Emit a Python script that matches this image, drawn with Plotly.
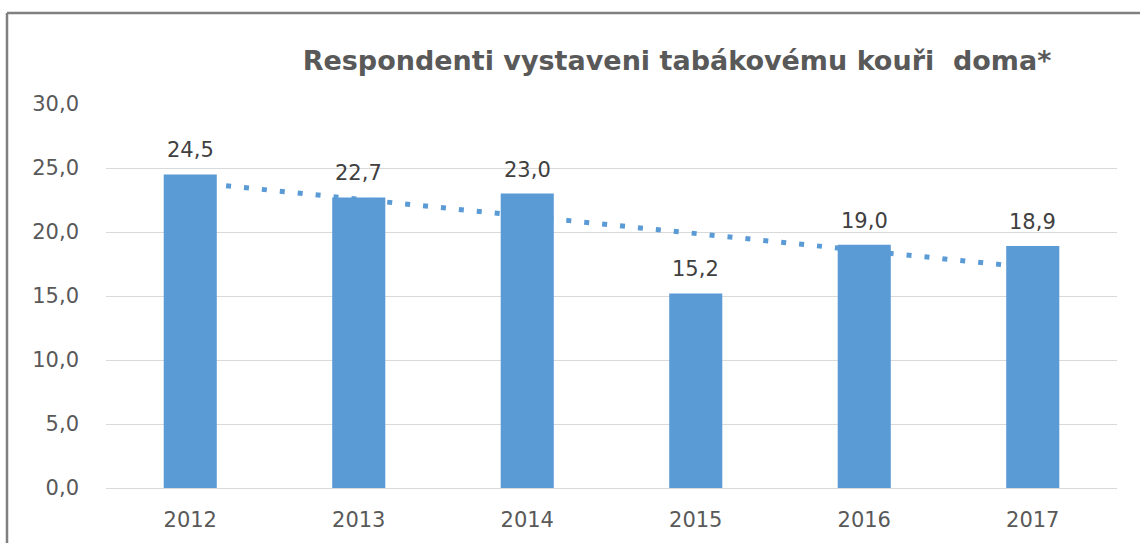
import numpy as np
import plotly.graph_objects as go

years = ["2012", "2013", "2014", "2015", "2016", "2017"]
values = [24.5, 22.7, 23.0, 15.2, 19.0, 18.9]
y_ticks = [0, 5, 10, 15, 20, 25, 30]
y_tick_labels = ["0,0", "5,0", "10,0", "15,0", "20,0", "25,0", "30,0"]
title_text = "Respondenti vystaveni tabákovému kouři  doma*"

# Linear trendline (least squares, as in the spreadsheet chart)
idx = np.arange(len(values))
slope, intercept = np.polyfit(idx, values, 1)
trend = (slope * idx + intercept).tolist()

FONT = "DejaVu Sans"
BAR = "#5b9bd5"

fig = go.Figure()
fig.add_trace(go.Scatter(
    x=years, y=trend, mode="lines",
    line=dict(color=BAR, width=5, dash="5px,13px"),
    hoverinfo="skip", showlegend=False,
))
fig.add_trace(go.Bar(
    x=years, y=values, marker=dict(color=BAR, line=dict(width=0)),
    width=0.315, showlegend=False,
))

# category axis positions are indices; annotate each bar with its value
for i, v in enumerate(values):
    fig.add_annotation(
        x=i, y=v, text=f"{v:.1f}".replace(".", ","), showarrow=False,
        yanchor="middle", yshift=24,
        font=dict(family=FONT, size=21, color="#404040"),
    )

L, R, T, B = 106, 23, 104, 55
W, H = 1140, 543
pw, ph = W - L - R, H - T - B
def px(x):
    return (x - L) / pw
def py(y):
    return (H - B - y) / ph

fig.add_shape(type="line", xref="paper", yref="paper",
              x0=px(7), x1=px(1141), y0=py(13), y1=py(13),
              line=dict(color="#808080", width=2.5))
fig.add_shape(type="line", xref="paper", yref="paper",
              x0=px(7), x1=px(7), y0=py(13), y1=py(545),
              line=dict(color="#808080", width=2.5))

fig.update_layout(
    width=W, height=H,
    margin=dict(l=L, r=R, t=T, b=B),
    paper_bgcolor="white", plot_bgcolor="white",
    title=dict(text=f"<b>{title_text}</b>", x=677 / W, xanchor="center",
               y=1 - 61 / H, yanchor="middle", xref="container", yref="container",
               font=dict(family=FONT, size=27, color="#595959")),
    font=dict(family=FONT),
)
fig.update_xaxes(
    type="category", range=[-0.5, 5.5], showgrid=False, showline=False, zeroline=False,
    tickfont=dict(family=FONT, size=21, color="#595959"),
    ticklabelstandoff=17,
)
fig.update_yaxes(
    range=[0, 30], tickvals=y_ticks, ticktext=y_tick_labels,
    showgrid=True, gridcolor="#d9d9d9", gridwidth=1,
    zeroline=True, zerolinecolor="#d9d9d9", zerolinewidth=1, showline=False,
    tickfont=dict(family=FONT, size=21, color="#595959"),
    ticklabelstandoff=26,
)

fig.write_html("out.html")
